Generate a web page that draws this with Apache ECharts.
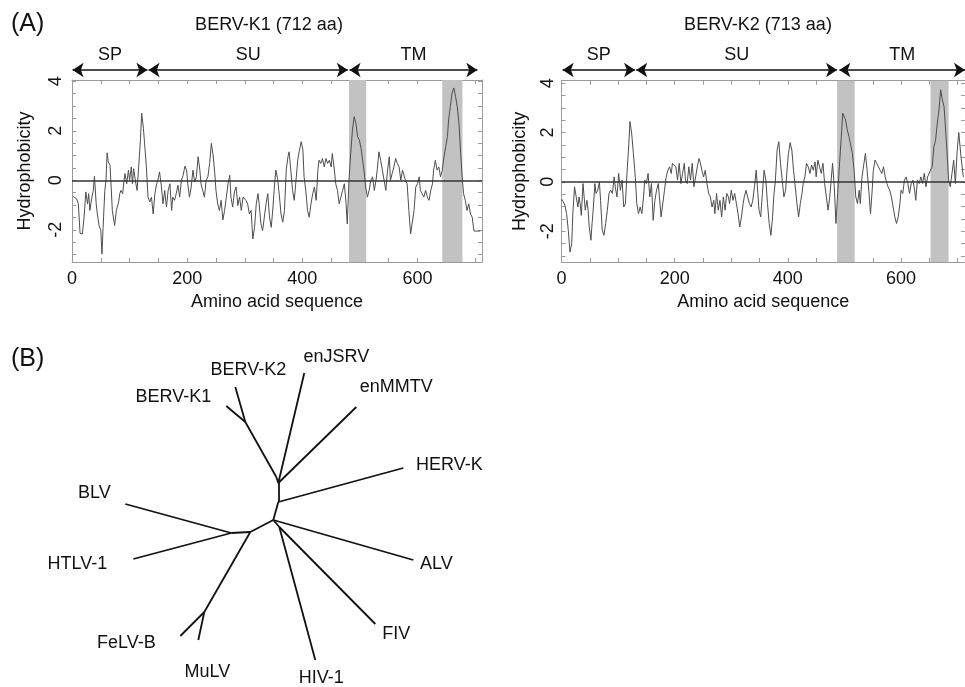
<!DOCTYPE html>
<html>
<head>
<meta charset="utf-8">
<script src="https://cdn.jsdelivr.net/npm/echarts@6/dist/echarts.min.js"></script>
<style>
  html, body { margin: 0; padding: 0; background: #fff; }
  #chart { width: 965px; height: 687px; }
</style>
</head>
<body>
<div id="chart"></div>
<script>
// hydrophobicity profiles, [residue, value]
const bervK1Profile = [
  [2,-0.65],[8,-0.75],[11,-0.95],[14,-2.14],[18,-2.17],[21,-1.49],[24,-0.47],[27,-0.95],[29,-0.54],[31,-1.22],
  [34,-0.75],[37,-0.41],[39,0.16],[42,-0.95],[44,-1.36],[47,-1.83],[50,-2.03],[52,-2.98],[54,-1.9],[57,-0.41],
  [59,0],[61,1.11],[63,0.75],[66,0.61],[68,-0.27],[70,-1.22],[74,-1.83],[77,-1.22],[81,-0.88],[83,-0.54],
  [85,-0.41],[88,-0.54],[90,-0.07],[92,0.27],[95,-0.14],[98,0.41],[100,0],[103,0.54],[105,-0.14],[107,0.47],
  [110,0],[113,-0.41],[117,0.95],[119,1.7],[121,2.71],[124,2.1],[126,1.5],[129,0.6],[132,-0.68],[135,-0.88],
  [138,-0.68],[141,-1.36],[144,-0.54],[147,-0.14],[149,0],[152,0.34],[155,-0.2],[158,-0.95],[161,-0.41],[164,-1.08],
  [167,-0.41],[170,-0.14],[173,-1.22],[175,-0.68],[178,-0.81],[181,-0.54],[184,-0.2],[187,-0.68],[190,0],[193,0.2],
  [196,0.57],[199,0.41],[201,-0.14],[204,-0.68],[207,-0.27],[210,0.41],[213,-0.07],[216,0.14],[219,0.95],[222,0.41],
  [224,-0.14],[227,-0.41],[230,-0.68],[233,0],[236,0.14],[239,0.68],[242,1.49],[245,1.02],[248,0.27],[250,-0.41],
  [253,-0.95],[256,-1.22],[259,-0.81],[262,-1.6],[265,-1.22],[268,-0.68],[271,-0.14],[274,0.2],[276,-0.68],[279,-1.08],
  [282,-0.47],[285,-0.27],[288,-1.02],[291,-0.68],[294,-1.22],[297,-0.68],[300,-0.68],[302,-0.81],[305,-0.95],[308,-1.36],
  [311,-1.22],[314,-2.37],[317,-1.9],[320,-0.95],[323,-0.54],[325,-0.95],[328,-1.76],[331,-2.03],[334,-1.49],[337,-0.95],
  [340,-0.54],[343,-1.49],[346,-1.9],[349,-1.08],[351,-0.41],[354,0.41],[357,0.07],[360,-0.6],[363,-1.36],[366,-1.69],
  [369,-1.22],[372,0.41],[375,0.95],[377,1.15],[380,0.41],[383,-0.41],[386,-0.81],[389,0],[392,0.81],[395,1.22],
  [398,1.56],[401,1.22],[403,0.14],[406,-0.41],[409,-1.22],[412,-1.49],[415,-0.95],[418,-0.54],[421,-0.27],[424,-0.81],
  [427,0.41],[429,0.81],[432,0.68],[435,0.88],[438,0.54],[441,0.88],[444,0.68],[447,0.81],[450,0.54],[452,1.08],
  [455,0.54],[458,-0.14],[461,-0.41],[464,-0.95],[467,-0.68],[470,-0.41],[473,-0.14],[476,-0.95],[478,-1.76],[481,0],
  [484,1.08],[487,2.03],[490,2.57],[493,2.3],[496,1.76],[499,1.63],[502,1.29],[504,1.22],[507,0.41],[510,-0.27],
  [513,-0.68],[516,-0.41],[519,0],[522,0.14],[525,-0.41],[528,0],[530,0.41],[533,1.15],[536,0.81],[539,0.41],
  [542,0],[545,-0.41],[548,0.41],[551,0.95],[553,0],[556,0.27],[559,0.54],[562,0.88],[565,0.68],[568,0.54],
  [571,0],[574,0.41],[577,0.47],[579,0],[582,-0.14],[585,-1.22],[588,-2.17],[591,-2.17],[594,-1.22],[597,-0.27],
  [600,-0.14],[603,0.14],[605,-0.41],[608,-0.54],[611,-0.68],[614,-0.41],[617,-0.68],[620,-0.81],[623,-0.41],[626,-0.14],
  [628,0.41],[631,0.81],[634,0.41],[637,0.54],[640,0.14],[643,0.41],[646,0.95],[649,1.36],[652,1.76],[654,2.44],
  [657,2.98],[660,3.52],[663,3.73],[666,3.39],[669,2.98],[672,2.3],[675,1.08],[678,0],[680,-0.54],[683,-0.81],
  [686,-1.22],[689,-0.95],[692,-1.36],[695,-1.49],[698,-2.05],[703,-2.05],[709,-2.05]
];

const bervK2Profile = [
  [0,-0.7],[3,-0.81],[6,-0.95],[9,-1.29],[12,-1.96],[15,-2.85],[18,-2.51],[20,-1.29],[23,-0.2],[26,-0.61],
  [29,-1.02],[31,-0.61],[33,-0.88],[35,-1.36],[38,-0.07],[40,-0.61],[42,-1.15],[45,-0.75],[47,-1.15],[49,-1.83],
  [52,-2.37],[54,-1.69],[56,-1.15],[59,-0.07],[61,-0.47],[64,-0.34],[67,0],[69,-0.75],[72,-1.96],[75,-2.17],
  [78,-1.69],[81,-1.15],[84,-0.47],[87,-0.34],[90,-0.47],[93,0.2],[95,-0.2],[98,-0.61],[101,0.34],[104,-0.34],
  [107,0.07],[110,-1.02],[113,-0.88],[116,0.47],[119,1.56],[121,2.44],[124,1.96],[127,1.15],[130,0.34],[133,-0.88],
  [136,-1.29],[139,-1.02],[142,-1.29],[145,-0.61],[147,0.07],[150,-0.07],[153,0.34],[156,-0.61],[159,-0.07],[162,-1.56],
  [165,-0.75],[168,-0.34],[171,-0.07],[173,-0.61],[176,-1.42],[179,-0.88],[182,-0.34],[185,0.2],[188,0.47],[191,0.61],
  [194,0.34],[196,0.75],[199,0.81],[202,0.61],[205,0.07],[208,0.75],[211,-0.07],[214,0.34],[217,0.75],[219,0.07],
  [222,-0.07],[225,0.61],[228,0.07],[231,0.75],[234,-0.2],[237,0.2],[240,0.61],[243,0.95],[245,0.81],[248,0.47],
  [251,0.2],[254,0.47],[257,-0.07],[260,-0.47],[263,-0.61],[266,-1.02],[269,-0.75],[271,-1.29],[274,-0.47],[277,-1.15],
  [280,-0.75],[283,-1.42],[286,-0.61],[289,-1.15],[292,-0.47],[295,-0.61],[297,-0.88],[300,-0.34],[303,-0.75],[306,-0.47],
  [309,-0.88],[312,-1.29],[315,-1.83],[318,-1.42],[321,-0.88],[323,-0.61],[326,-0.34],[329,-0.61],[332,-0.88],[335,-1.02],
  [338,-0.75],[341,-0.2],[344,0.47],[347,-0.47],[349,-1.15],[352,-1.42],[355,-0.47],[358,0.47],[361,0.07],[364,-0.88],
  [367,-1.69],[370,-2.17],[373,-1.42],[375,-0.61],[378,0.07],[381,1.29],[384,1.63],[387,0.75],[390,0.07],[393,-0.61],
  [396,-0.34],[399,0.61],[401,1.15],[404,1.59],[407,1.29],[410,0.47],[413,-0.2],[416,-0.88],[419,-1.42],[422,-0.88],
  [425,-0.47],[427,-0.07],[430,0.2],[433,0.75],[436,0.61],[439,0.34],[442,0.68],[445,0.47],[448,0.81],[450,0.2],
  [453,0.88],[456,0.61],[459,0.34],[462,0.75],[465,-0.07],[468,-0.61],[471,-1.15],[474,-0.61],[476,-0.07],[479,0.75],
  [482,-0.2],[485,-1.69],[488,-0.47],[491,0.61],[494,1.69],[497,2.78],[500,2.71],[502,2.51],[505,2.1],[508,1.83],
  [511,1.83],[514,1.15],[517,0.47],[520,-0.61],[523,-0.88],[526,-0.34],[528,-0.88],[531,0.2],[534,0.68],[537,1.15],
  [540,0.47],[543,-0.34],[546,-1.29],[549,-0.34],[551,0.47],[554,0.88],[557,0.75],[560,0.61],[563,0.47],[566,0.34],
  [569,0.61],[572,0.2],[575,-0.07],[577,-0.2],[580,-0.34],[583,-0.61],[586,-1.02],[589,-1.42],[592,-1.69],[595,-1.42],
  [598,-0.88],[600,-0.34],[603,-0.47],[606,0.07],[609,0.2],[612,-0.07],[615,-0.47],[618,-0.07],[621,0.07],[624,-0.34],
  [626,-0.75],[629,0.07],[632,-0.07],[635,0.2],[638,-0.07],[641,0.34],[644,-0.2],[647,0.2],[650,0.2],[652,0.47],
  [655,0.61],[658,1.42],[661,1.69],[664,2.37],[667,2.91],[670,3.73],[673,3.32],[676,3.05],[678,2.37],[681,1.29],
  [684,0.07],[687,-0.2],[690,0.34],[693,0.88],[696,-0.07],[699,1.2],[702,2.0],[706,1.0],[710,0.2]
];

// protein length, domains [name, start, end] and shaded TM segments [start, end]
const bervK1Length = 712;
const bervK2Length = 713;
const bervK1Domains = [['SP', 1, 131], ['SU', 133, 479], ['TM', 482, 704]];
const bervK2Domains = [['SP', 2, 130], ['SU', 132, 487], ['TM', 491, 713]];
const bervK1Tm = [[481, 511], [643, 678]];
const bervK2Tm = [[487, 518], [652, 684]];

const xTickValues = [0, 50, 100, 150, 200, 250, 300, 350, 400, 450, 500, 550, 600, 650, 700];
const xLabelValues = [0, 200, 400, 600];
const yTickValues = [-3, -2.5, -2, -1.5, -1, -0.5, 0, 0.5, 1, 1.5, 2, 2.5, 3, 3.5, 4];
const yLabelValues = [-2, 0, 2, 4];

// unrooted tree (B): node [name, x, y] and branches [from, to]
const treeNodes = [
  ['nK', -0.28, 0.98], ['BERV-K1', -0.47, 1.14], ['BERV-K2', -0.38, 1.33],
  ['n1', 0.03, 0.43], ['n2', 0.05, 0.37], ['enJSRV', 0.31, 1.47], ['enMMTV', 0.83, 1.13],
  ['n3', 0.05, 0.18], ['HERV-K', 1.30, 0.52], ['n4', 0, 0], ['ALV', 1.40, -0.40],
  ['n5', 0.06, -0.07], ['FIV', 1.02, -1.04], ['HIV-1', 0.42, -1.40],
  ['n6', -0.23, -0.12], ['n7', -0.42, -0.13], ['BLV', -1.48, 0.16], ['HTLV-1', -1.40, -0.39],
  ['nM', -0.69, -0.92], ['MuLV', -0.75, -1.20], ['FeLV-B', -0.93, -1.16]
];
const treeEdges = [
  ['n1', 'nK'], ['nK', 'BERV-K1'], ['nK', 'BERV-K2'], ['n1', 'n2'], ['n2', 'enJSRV'], ['n2', 'enMMTV'],
  ['n2', 'n3'], ['n3', 'HERV-K'], ['n3', 'n4'], ['n4', 'ALV'], ['n4', 'n5'], ['n5', 'FIV'], ['n5', 'HIV-1'],
  ['n4', 'n6'], ['n6', 'n7'], ['n7', 'BLV'], ['n7', 'HTLV-1'], ['n6', 'nM'], ['nM', 'MuLV'], ['nM', 'FeLV-B']
];
const treeLabelPos = [
  ['BERV-K2', -0.25, 1.50], ['enJSRV', 0.63, 1.63], ['enMMTV', 1.23, 1.33], ['BERV-K1', -1.00, 1.23],
  ['HERV-K', 1.76, 0.55], ['BLV', -1.79, 0.27], ['HTLV-1', -1.96, -0.44], ['ALV', 1.63, -0.44],
  ['FIV', 1.23, -1.14], ['FeLV-B', -1.47, -1.23], ['MuLV', -0.66, -1.52], ['HIV-1', 0.48, -1.58]
];

const FONT = "'Liberation Sans', Arial, sans-serif";
const TXT = '#111';
const FRAME = '#9a9a9a';

const chart = echarts.init(document.getElementById('chart'));

function frameAxis(extra) {
    return Object.assign({
        type: 'value',
        axisLine: {show: true, onZero: false, lineStyle: {color: FRAME, width: 1}},
        splitLine: {show: false},
        axisLabel: {show: false},
        axisTick: {show: true, inside: true, length: 4, lineStyle: {color: FRAME}}
    }, extra);
}

// one hydrophobicity panel: 2 x axes (bottom/top), 2 y axes (left/right)
function panelAxes(g, len, yMin, yMax, labelMargin, nameGap) {
    const xs = [
        frameAxis({
            gridIndex: g, min: 0, max: len, position: 'bottom',
            axisTick: {show: true, inside: true, length: 4, customValues: xTickValues, lineStyle: {color: FRAME}},
            axisLabel: {show: true, customValues: xLabelValues, fontSize: 18, color: TXT, fontFamily: FONT, margin: 8},
            name: 'Amino acid sequence', nameLocation: 'middle', nameGap: 31,
            nameTextStyle: {fontSize: 18, color: TXT, fontFamily: FONT}
        }),
        frameAxis({
            gridIndex: g, min: 0, max: len, position: 'top',
            axisTick: {show: true, inside: true, length: 4, customValues: xTickValues, lineStyle: {color: FRAME}}
        })
    ];
    const ys = [
        frameAxis({
            gridIndex: g, min: yMin, max: yMax, position: 'left',
            axisTick: {show: true, inside: true, length: 4, customValues: yTickValues, lineStyle: {color: FRAME}},
            axisLabel: {show: true, customValues: yLabelValues, rotate: 90, fontSize: 18, color: TXT, fontFamily: FONT, margin: labelMargin},
            name: 'Hydrophobicity', nameLocation: 'middle', nameRotate: 90, nameGap: nameGap,
            nameTextStyle: {fontSize: 18, color: TXT, fontFamily: FONT}
        }),
        frameAxis({
            gridIndex: g, min: yMin, max: yMax, position: 'right',
            axisTick: {show: true, inside: true, length: 4, customValues: yTickValues, lineStyle: {color: FRAME}}
        })
    ];
    return {xs, ys};
}

function profileSeries(xi, yi, data, tm) {
    return {
        type: 'line', xAxisIndex: xi, yAxisIndex: yi, data: data,
        showSymbol: false, symbol: 'none',
        lineStyle: {color: '#4d4d4d', width: 1},
        markLine: {
            silent: true, symbol: 'none', label: {show: false},
            lineStyle: {color: '#333', width: 1.5, type: 'solid'},
            data: [{yAxis: 0}]
        },
        markArea: {
            silent: true,
            itemStyle: {color: '#c2c2c2'},
            data: tm.map(r => [{xAxis: r[0]}, {xAxis: r[1]}])
        }
    };
}

// text-only scatter points
function labelSeries(ai, points, position, distance) {
    return {
        type: 'scatter', xAxisIndex: ai, yAxisIndex: ai, symbolSize: 0,
        itemStyle: {color: '#fff', opacity: 1},
        label: {show: true, position: position, distance: distance, formatter: '{b}',
                fontSize: 18, color: TXT, fontFamily: FONT, opacity: 1, textBorderWidth: 0},
        emphasis: {disabled: true},
        data: points
    };
}

function domainSeries(ai, domains) {
    return [
        {
            type: 'lines', coordinateSystem: 'cartesian2d', xAxisIndex: ai, yAxisIndex: ai,
            symbol: ['arrow', 'arrow'], symbolSize: 11,
            lineStyle: {color: '#111', width: 1.6, opacity: 1},
            data: domains.map(d => ({coords: [[d[1], 0.5], [d[2], 0.5]]}))
        },
        labelSeries(ai, domains.map(d => ({name: d[0], value: [(d[1] + d[2]) / 2, 0.5]})), 'top', 6)
    ];
}

const p1 = panelAxes(0, bervK1Length, -3.3, 4.05, 7, 38);
const p2 = panelAxes(1, bervK2Length, -3.25, 4.1, 4, 32);

const hidden = (g, min, max) => ({type: 'value', gridIndex: g, min: min, max: max, show: false});

const nodeXY = {};
treeNodes.forEach(n => { nodeXY[n[0]] = [n[1], n[2]]; });

const option = {
    animation: false,
    textStyle: {fontFamily: FONT},
    grid: [
        {left: 72, top: 80, width: 410, height: 182},
        {left: 561.5, top: 80.7, width: 412, height: 181.3},
        {left: 72, top: 60, width: 410, height: 20},
        {left: 561.5, top: 60, width: 412, height: 20},
        {left: 0, top: 320, width: 480, height: 367}
    ],
    xAxis: [
        p1.xs[0], p1.xs[1], p2.xs[0], p2.xs[1],
        hidden(2, 0, bervK1Length), hidden(3, 0, bervK2Length), hidden(4, -2.733, 2.067)
    ],
    yAxis: [
        p1.ys[0], p1.ys[1], p2.ys[0], p2.ys[1],
        hidden(2, 0, 1), hidden(3, 0, 1), hidden(4, -1.67, 2.0)
    ],
    graphic: [
        {type: 'text', x: 11, y: 24, style: {text: '(A)', fontSize: 25, fontFamily: FONT, fill: TXT, textVerticalAlign: 'middle'}},
        {type: 'text', x: 11, y: 359, style: {text: '(B)', fontSize: 25, fontFamily: FONT, fill: TXT, textVerticalAlign: 'middle'}},
        {type: 'text', x: 269, y: 25, style: {text: 'BERV-K1 (712 aa)', fontSize: 18, fontFamily: FONT, fill: TXT, textAlign: 'center', textVerticalAlign: 'middle'}},
        {type: 'text', x: 758, y: 25, style: {text: 'BERV-K2 (713 aa)', fontSize: 18, fontFamily: FONT, fill: TXT, textAlign: 'center', textVerticalAlign: 'middle'}}
    ],
    series: [
        profileSeries(0, 0, bervK1Profile, bervK1Tm),
        profileSeries(2, 2, bervK2Profile, bervK2Tm),
        ...domainSeries(4, bervK1Domains),
        ...domainSeries(5, bervK2Domains),
        {
            type: 'lines', coordinateSystem: 'cartesian2d', xAxisIndex: 6, yAxisIndex: 6,
            lineStyle: {color: '#111', width: 1.8, opacity: 1},
            data: treeEdges.map(e => ({coords: [nodeXY[e[0]], nodeXY[e[1]]]}))
        },
        labelSeries(6, treeLabelPos.map(l => ({name: l[0], value: [l[1], l[2]]})), 'inside', 0)
    ]
};

chart.setOption(option);
</script>
</body>
</html>
